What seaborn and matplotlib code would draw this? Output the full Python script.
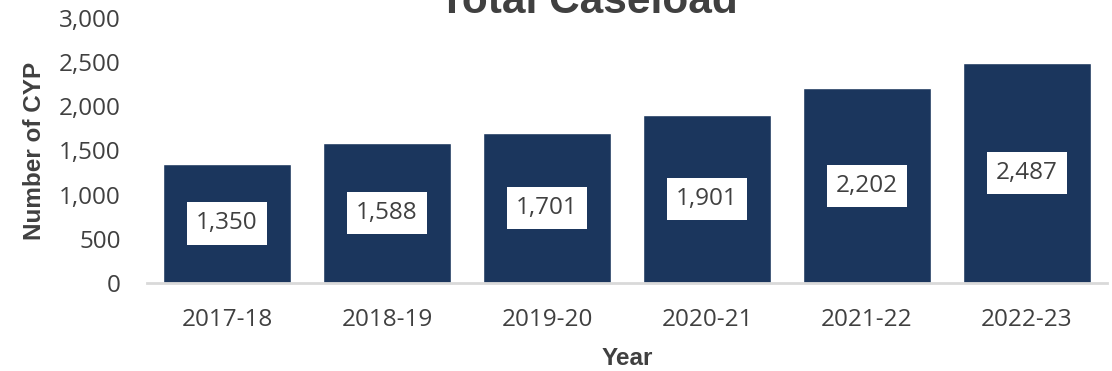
import matplotlib
matplotlib.use("Agg")
import matplotlib.pyplot as plt
import seaborn as sns
import pandas as pd

years = ["2017-18", "2018-19", "2019-20", "2020-21", "2021-22", "2022-23"]
caseload = [1350, 1588, 1701, 1901, 2202, 2487]
y_ticks = [0, 500, 1000, 1500, 2000, 2500, 3000]

BAR_COLOR = "#1b365d"
TEXT_COLOR = "#404040"

sns.set_theme(style="white")
plt.rcParams["font.family"] = ["Open Sans", "DejaVu Sans"]

df = pd.DataFrame({"Year": years, "Caseload": caseload})

fig = plt.figure(figsize=(11.12, 3.71), dpi=100)
ax = fig.add_axes([0.1322, 0.2372, 0.8633, 0.7143])

sns.barplot(data=df, x="Year", y="Caseload", color=BAR_COLOR, width=0.8,
            saturation=1, ax=ax)

ax.set_xlim(-0.5, len(years) - 0.5)
ax.set_ylim(0, 3000)
ax.set_yticks(y_ticks)
ax.set_yticklabels([f"{v:,}" for v in y_ticks])
ax.tick_params(axis="both", length=0, labelsize=17.5, labelcolor=TEXT_COLOR)
ax.tick_params(axis="y", pad=19)
ax.tick_params(axis="x", pad=18)

for side in ["top", "right", "left"]:
    ax.spines[side].set_visible(False)
ax.spines["bottom"].set_color("#d9d9d9")
ax.spines["bottom"].set_linewidth(2)

# value labels in white boxes at mid-height of each bar
for i, v in enumerate(caseload):
    ax.text(i, v / 2, f"{v:,}", ha="center", va="center", fontsize=17.5,
            color=TEXT_COLOR,
            bbox=dict(boxstyle="square,pad=0.38", facecolor="white",
                      edgecolor="none"))

ax.set_xlabel("Year", fontsize=17.5, fontweight="bold", color=TEXT_COLOR,
              family="Liberation Sans", labelpad=11)
ax.set_ylabel("Number of CYP", fontsize=17.5, fontweight="bold",
              color=TEXT_COLOR, family="Liberation Sans", labelpad=9)

fig.text(588 / 1112, 1 - 13 / 371, "Total Caseload", ha="center",
         va="baseline", fontsize=30.5, fontweight="bold", color=TEXT_COLOR,
         family="Liberation Sans")

fig.savefig("out.png", dpi=100)
